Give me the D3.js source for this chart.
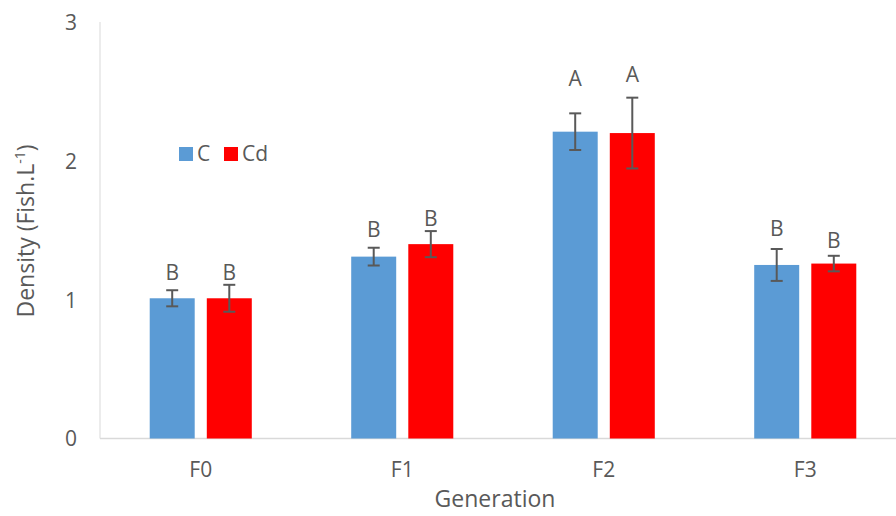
<!DOCTYPE html>
<html><head><meta charset="utf-8">
<script src="https://cdn.jsdelivr.net/npm/d3@7"></script>
<style>body{margin:0;background:#fff}svg{display:block;font-family:"Open Sans",sans-serif}</style>
</head><body><svg id="c" width="896" height="516"></svg>
<script>
const categories = ["F0","F1","F2","F3"];
const seriesNames = ["C","Cd"];
const valuesC  = [1.01, 1.31, 2.21, 1.25];
const valuesCd = [1.01, 1.40, 2.20, 1.26];
const errC  = [0.058, 0.064, 0.132, 0.115];
const errCd = [0.097, 0.094, 0.255, 0.056];
const lettersC  = ["B","B","A","B"];
const lettersCd = ["B","B","A","B"];
const letterPosC  = [1.14, 1.45, 2.54, 1.46];
const letterPosCd = [1.14, 1.53, 2.57, 1.37];
const yTicks = [0,1,2,3];
const colors = ["#5b9bd5","#ff0000"];

const svg = d3.select("#c");
const x0 = 100, x1 = 906, yTop = 22, yBot = 438.5;
const x = d3.scaleBand().domain(categories).range([x0,x1]).padding(0);
const y = d3.scaleLinear().domain([0,3]).range([yBot,yTop]);
const bw = x.bandwidth()*0.2233, gap = x.bandwidth()*0.06;
const grey = "#595959";

svg.append("line").attr("x1",x0).attr("x2",x0).attr("y1",y(3)).attr("y2",y(0)).attr("stroke","#d9d9d9").attr("stroke-width",1);
svg.append("line").attr("x1",x0).attr("x2",896).attr("y1",y(0)).attr("y2",y(0)).attr("stroke","#d9d9d9").attr("stroke-width",1.3);

const yAxis = d3.axisLeft(y).tickValues(yTicks).tickSize(0).tickPadding(0).tickFormat(d3.format("d"));
const ga = svg.append("g").attr("transform",`translate(${x0-23},0)`).call(yAxis);
ga.select(".domain").remove();
ga.selectAll("text").attr("fill",grey).attr("font-size",21).attr("font-family","Open Sans").attr("dy","0.35em");

const xAxis = d3.axisBottom(x).tickSize(0).tickPadding(0);
const gx = svg.append("g").attr("transform",`translate(0,${yBot+31})`).call(xAxis);
gx.select(".domain").remove();
gx.selectAll("text").attr("fill",grey).attr("font-size",21).attr("font-family","Open Sans").attr("dy","0.35em");

const series = [
  {name:"C", vals:valuesC, err:errC, letters:lettersC, lpos:letterPosC, off:-(gap/2+bw/2), color:colors[0]},
  {name:"Cd", vals:valuesCd, err:errCd, letters:lettersCd, lpos:letterPosCd, off:(gap/2+bw/2), color:colors[1]}
];
series.forEach(s=>{
  const g = svg.append("g");
  categories.forEach((c,i)=>{
    const cx = x(c)+x.bandwidth()/2+s.off;
    g.append("rect").attr("x",cx-bw/2).attr("width",bw).attr("y",y(s.vals[i])).attr("height",y(0)-y(s.vals[i])).attr("fill",s.color);
    const t = y(s.vals[i]+s.err[i]), b = y(s.vals[i]-s.err[i]);
    g.append("line").attr("x1",cx).attr("x2",cx).attr("y1",t).attr("y2",b).attr("stroke",grey).attr("stroke-width",2);
    [t,b].forEach(v=>g.append("line").attr("x1",cx-6).attr("x2",cx+6).attr("y1",v).attr("y2",v).attr("stroke",grey).attr("stroke-width",2));
    g.append("text").attr("x",cx).attr("y",y(s.lpos[i])).attr("text-anchor","middle").attr("fill",grey).attr("font-size",21).text(s.letters[i]);
  });
});

const leg = svg.append("g");
seriesNames.forEach((n,i)=>{
  const lx = [179,224][i];
  leg.append("rect").attr("x",lx).attr("y",147).attr("width",14).attr("height",14).attr("fill",colors[i]);
  leg.append("text").attr("x",lx+18).attr("y",161).attr("fill",grey).attr("font-size",21).text(n);
});

svg.append("text").attr("x",(x0+896)/2-3).attr("y",507).attr("text-anchor","middle").attr("fill",grey).attr("font-size",23).text("Generation");
const yt = svg.append("text").attr("transform",`translate(34,231) rotate(-90)`).attr("text-anchor","middle").attr("fill",grey).attr("font-size",23);
yt.append("tspan").text("Density (Fish.L");
yt.append("tspan").attr("dy",-9).attr("font-size",14).text("-1");
yt.append("tspan").attr("dy",9).text(")");
</script></body></html>
